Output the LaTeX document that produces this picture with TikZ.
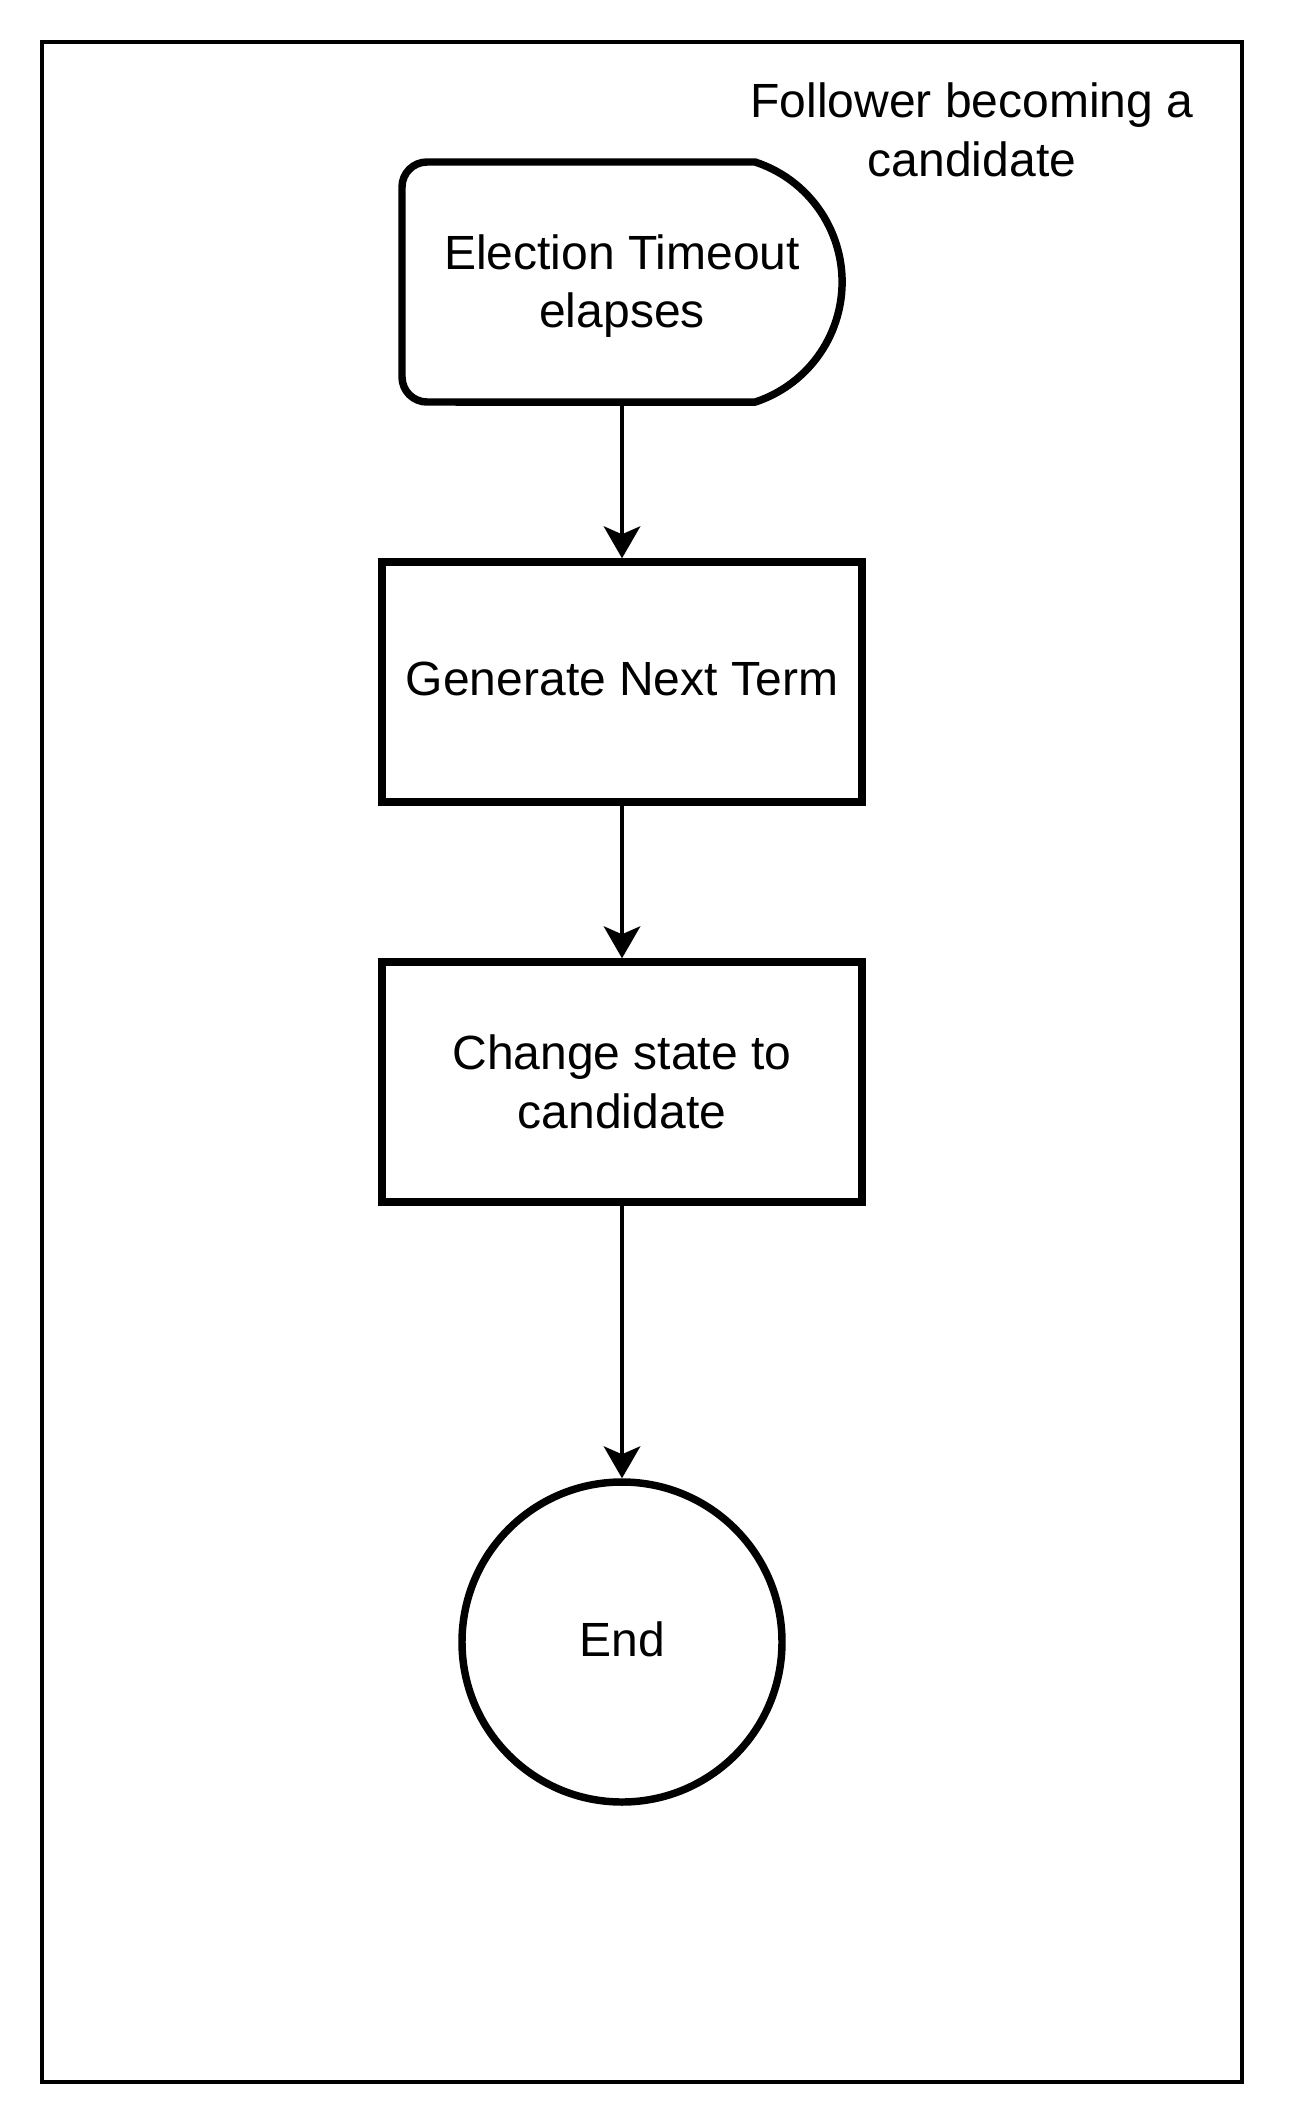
\documentclass[tikz,border=0pt]{standalone}
\usepackage{fontspec}
\setmainfont{Liberation Sans}
\usetikzlibrary{arrows.meta}
\begin{document}
\begin{tikzpicture}[x=0.75pt,y=-0.75pt,
  txt/.style={font=\fontsize{36}{44}\selectfont, align=center},
  boxnode/.style={txt, draw, line width=5.6pt, minimum width=360pt, minimum height=180pt, inner sep=0pt},
  endnode/.style={txt, draw, circle, line width=5.6pt, minimum size=240pt, inner sep=0pt},
  shapeline/.style={line width=5.6pt, line join=round},
  flow/.style={line width=2.4pt, -{Stealth[length=24pt,width=27.5pt,inset=6pt]}},
  lbl/.style={txt, inner sep=0pt}]
\useasboundingbox (0,0) rectangle (1316,2128);
% outer frame
\node[draw, line width=2.8pt, minimum width=900pt, minimum height=1530pt, inner sep=0pt] (frame) at (642,1062) {};
% title
\node[lbl] (title) at (972,130) {Follower becoming a\\candidate};
% election timeout (delay shape)
\node[lbl, minimum width=330pt, minimum height=180pt, outer sep=2.8pt] (elect) at (622,282) {};
\node[lbl] (electtext) at (622,286) {Election Timeout\\elapses};
\draw[shapeline] (755,162) arc[start angle=-71.9,end angle=71.9,radius=126.3]
  -- (427,402) arc[start angle=90,end angle=180,radius=25]
  -- (402,187) arc[start angle=180,end angle=270,radius=25] -- cycle;
% process boxes
\node[boxnode] (gen) at (622,682) {};
\node[lbl] (gentext) at (622,679) {Generate Next Term};
\node[boxnode] (chg) at (622,1082) {};
\node[lbl] (chgtext) at (622,1082) {Change state to\\candidate};
% end
\node[endnode] (fin) at (622,1642) {};
\node[lbl] (fintext) at (622,1639) {End};
% connectors
\draw[flow] (elect.south) -- (gen.north);
\draw[flow] (gen.south) -- (chg.north);
\draw[flow] (chg.south) -- (fin.north);
\end{tikzpicture}
\end{document}
